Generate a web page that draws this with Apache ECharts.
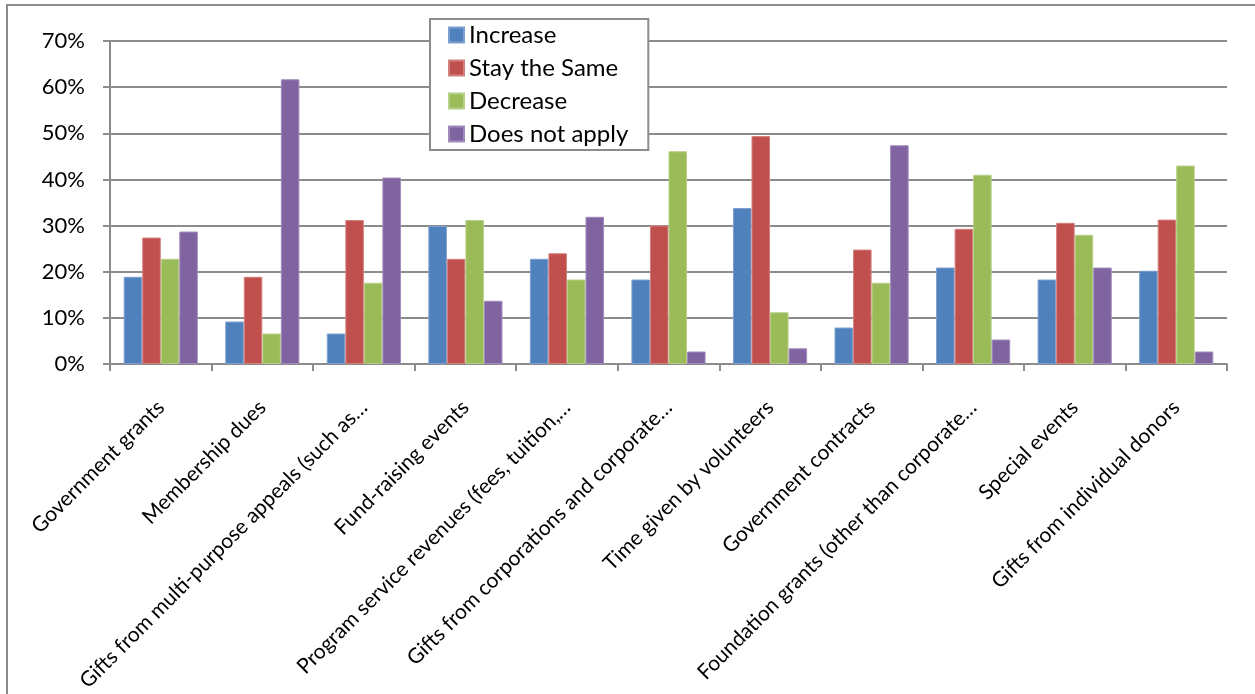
<!DOCTYPE html>
<html>
<head>
<meta charset="utf-8">
<script src="https://cdn.jsdelivr.net/npm/echarts@6/dist/echarts.min.js"></script>
<style>
  html, body { margin: 0; padding: 0; background: #fff; }
  #chart { width: 1255px; height: 694px; }
</style>
</head>
<body>
<div id="chart"></div>
<script>
const categories = [
  "Government grants",
  "Membership dues",
  "Gifts from multi-purpose appeals (such as…",
  "Fund-raising events",
  "Program service revenues (fees, tuition,…",
  "Gifts from corporations and corporate…",
  "Time given by volunteers",
  "Government contracts",
  "Foundation grants (other than corporate…",
  "Special events",
  "Gifts from individual donors"
];
const seriesNames = ["Increase", "Stay the Same", "Decrease", "Does not apply"];
const increase     = [18.9, 9.2, 6.6, 29.9, 22.8, 18.3, 33.8, 7.9, 20.9, 18.3, 20.2];
const stayTheSame  = [27.4, 18.9, 31.2, 22.8, 24.0, 30.0, 49.4, 24.8, 29.3, 30.6, 31.3];
const decrease     = [22.8, 6.6, 17.6, 31.2, 18.3, 46.1, 11.2, 17.6, 41.0, 28.0, 43.0];
const doesNotApply = [28.7, 61.7, 40.4, 13.7, 31.9, 2.7, 3.4, 47.4, 5.3, 20.9, 2.7];
const yTicks = { min: 0, max: 70, interval: 10 };

const colors = ["#4F81BD", "#C0504D", "#9BBB59", "#8064A2"];
const borders = ["#7D9FCF", "#D4807E", "#B6CF86", "#A08BBB"];
const values = [increase, stayTheSame, decrease, doesNotApply];
const FONT = "Lato, 'Open Sans', sans-serif";
const GRID_GRAY = "#8C8C8C";

const chart = echarts.init(document.getElementById("chart"), null, { renderer: "canvas" });
chart.setOption({
  animation: false,
  backgroundColor: "#ffffff",
  textStyle: { fontFamily: FONT },
  graphic: [{
    type: "rect",
    shape: { x: 7, y: 5, width: 1300, height: 800 },
    style: { fill: "none", stroke: "#8C8C8C", lineWidth: 2 },
    z: 0, silent: true
  }],
  legend: {
    orient: "vertical",
    left: 430,
    top: 19,
    padding: [4, 20, 4, 18],
    itemWidth: 15,
    itemHeight: 15,
    itemGap: 9,
    icon: "rect",
    backgroundColor: "#ffffff",
    borderColor: "#8C8C8C",
    borderWidth: 2,
    borderRadius: 0,
    z: 10,
    textStyle: { fontFamily: FONT, fontSize: 24, lineHeight: 24, color: "#000" },
    data: seriesNames
  },
  grid: { left: 110, right: 28, top: 41, bottom: 329, containLabel: false },
  xAxis: {
    type: "category",
    data: categories,
    boundaryGap: true,
    axisLine: { show: true, lineStyle: { color: GRID_GRAY, width: 2 } },
    axisTick: { show: true, length: 7, lineStyle: { color: GRID_GRAY, width: 2 } },
    axisLabel: {
      interval: 0, rotate: 45, margin: 40,
      fontFamily: FONT, fontSize: 21, color: "#000"
    }
  },
  yAxis: {
    type: "value",
    min: yTicks.min, max: yTicks.max, interval: yTicks.interval,
    axisLine: { show: true, lineStyle: { color: GRID_GRAY, width: 2 } },
    axisTick: { show: true, length: 7, lineStyle: { color: GRID_GRAY, width: 2 } },
    splitLine: { show: true, lineStyle: { color: GRID_GRAY, width: 2 } },
    axisLabel: {
      formatter: "{value}%", margin: 25,
      fontFamily: FONT, fontSize: 22, color: "#000"
    }
  },
  series: seriesNames.map((name, i) => ({
    name: name,
    type: "bar",
    data: values[i],
    barGap: "0%",
    barCategoryGap: "27%",
    itemStyle: { color: colors[i], borderColor: borders[i], borderWidth: 1 }
  }))
});
</script>
</body>
</html>
